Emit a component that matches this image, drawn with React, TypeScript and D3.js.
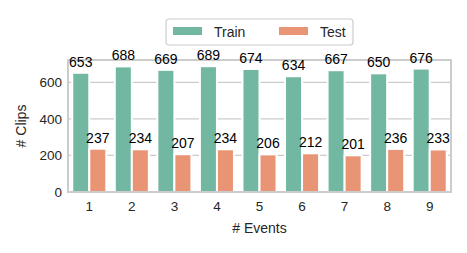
import { useEffect, useRef } from 'react';
import * as d3 from 'd3';

const EVENTS = ['1', '2', '3', '4', '5', '6', '7', '8', '9'];
const TRAIN = [653, 688, 669, 689, 674, 634, 667, 650, 676];
const TEST = [237, 234, 207, 234, 206, 212, 201, 236, 233];
const SERIES = ['Train', 'Test'];
const Y_TICKS = [0, 200, 400, 600];

const COLORS = ['#71b7a1', '#e99575'];
const W = 467;
const H = 253;
const MARGIN = { top: 60, right: 16, bottom: 61, left: 68 };
const FONT = 'Liberation Sans, Arial, sans-serif';
const INK = '#262626';

export default function App() {
  const svgRef = useRef<SVGSVGElement>(null);

  useEffect(() => {
    if (!svgRef.current) return;
    const svg = d3.select(svgRef.current);
    svg.selectAll('*').remove();

    const x0 = MARGIN.left;
    const x1 = W - MARGIN.right;
    const y0 = H - MARGIN.bottom;
    const y1 = MARGIN.top;

    const x = d3.scaleBand<string>().domain(EVENTS).range([x0, x1]).paddingInner(0.2).paddingOuter(0.1);
    const xs = d3.scaleBand<string>().domain(SERIES).range([0, x.bandwidth()]);
    const y = d3.scaleLinear().domain([0, 723]).range([y0, y1]);

    // grid
    svg.append('g')
      .selectAll('line')
      .data(Y_TICKS)
      .join('line')
      .attr('x1', x0)
      .attr('x2', x1)
      .attr('y1', (d) => y(d))
      .attr('y2', (d) => y(d))
      .attr('stroke', '#cccccc')
      .attr('stroke-width', 1.25);

    const rows = [TRAIN, TEST];
    rows.forEach((vals, si) => {
      svg.append('g')
        .selectAll('rect')
        .data(vals)
        .join('rect')
        .attr('x', (_, i) => x(EVENTS[i])! + xs(SERIES[si])!)
        .attr('y', (d) => y(d))
        .attr('width', xs.bandwidth())
        .attr('height', (d) => y0 - y(d))
        .attr('fill', COLORS[si])
        .attr('stroke', '#ffffff')
        .attr('stroke-width', 2);
    });

    // frame, under the value labels
    svg.append('rect')
      .attr('x', x0)
      .attr('y', y1)
      .attr('width', x1 - x0)
      .attr('height', y0 - y1)
      .attr('fill', 'none')
      .attr('stroke', '#cccccc')
      .attr('stroke-width', 2);

    rows.forEach((vals, si) => {
      svg.append('g')
        .selectAll('text')
        .data(vals)
        .join('text')
        .attr('x', (_, i) => x(EVENTS[i])! + xs(SERIES[si])! + xs.bandwidth() / 2)
        .attr('y', (d) => y(d) - 6)
        .attr('text-anchor', 'middle')
        .attr('font-family', FONT)
        .attr('font-size', 14)
        .attr('fill', 'black')
        .text((d) => d);
    });

    // y ticks
    svg.append('g')
      .selectAll('text')
      .data(Y_TICKS)
      .join('text')
      .attr('x', x0 - 6)
      .attr('y', (d) => y(d))
      .attr('dy', '0.35em')
      .attr('text-anchor', 'end')
      .attr('font-family', FONT)
      .attr('font-size', 13.5)
      .attr('fill', INK)
      .text((d) => d);

    // x ticks
    svg.append('g')
      .selectAll('text')
      .data(EVENTS)
      .join('text')
      .attr('x', (d) => x(d)! + x.bandwidth() / 2)
      .attr('y', y0 + 19)
      .attr('text-anchor', 'middle')
      .attr('font-family', FONT)
      .attr('font-size', 13.5)
      .attr('fill', INK)
      .text((d) => d);

    svg.append('text')
      .attr('x', (x0 + x1) / 2)
      .attr('y', y0 + 41)
      .attr('text-anchor', 'middle')
      .attr('font-family', FONT)
      .attr('font-size', 14)
      .attr('fill', INK)
      .text('# Events');

    svg.append('text')
      .attr('transform', `translate(${26},${(y0 + y1) / 2}) rotate(-90)`)
      .attr('text-anchor', 'middle')
      .attr('font-family', FONT)
      .attr('font-size', 14)
      .attr('fill', INK)
      .text('# Clips');

    // legend
    const lg = svg.append('g').attr('transform', 'translate(166,19)');
    lg.append('rect')
      .attr('width', 187)
      .attr('height', 26)
      .attr('rx', 3)
      .attr('fill', 'white')
      .attr('stroke', '#cccccc')
      .attr('stroke-width', 1.2);
    const items = lg.selectAll('g.item')
      .data(SERIES)
      .join('g')
      .attr('class', 'item')
      .attr('transform', (_, i) => `translate(${7 + i * 106},0)`);
    items.append('rect')
      .attr('y', 8)
      .attr('width', 29)
      .attr('height', 8)
      .attr('fill', (_, i) => COLORS[i]);
    items.append('text')
      .attr('x', 41)
      .attr('y', 13)
      .attr('dy', '0.35em')
      .attr('font-family', FONT)
      .attr('font-size', 14)
      .attr('fill', INK)
      .text((d) => d);
  }, []);

  return (
    <svg ref={svgRef} width={W} height={H} style={{ position: 'absolute', left: 0, top: 0, background: 'white' }} />
  );
}
